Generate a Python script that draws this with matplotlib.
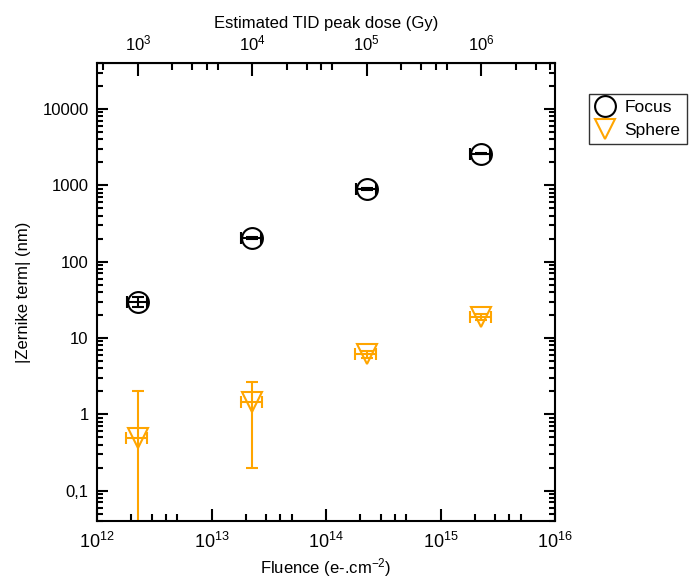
import numpy as np
import matplotlib.pyplot as plt
from matplotlib.lines import Line2D
from matplotlib.ticker import LogLocator, FixedLocator, FuncFormatter, NullFormatter, LogFormatterSciNotation

plt.rcParams['font.family'] = 'Liberation Sans'
plt.rcParams['mathtext.fontset'] = 'custom'
plt.rcParams['mathtext.rm'] = 'Liberation Sans'
plt.rcParams['mathtext.it'] = 'Liberation Sans:italic'
plt.rcParams['font.size'] = 12

# fluence of each irradiation step (e-/cm2)
fluence = [2.27e12, 2.27e13, 2.28e14, 2.27e15]
# TID peak dose per unit fluence (Gy per e-/cm2)
dose_per_fluence = 1e3 / 2.27e12

focus = [30, 205, 900, 2600]
focus_yerr = [4.3, 6, 20, 60]
sphere = [0.49, 1.43, 6.1, 18.9]
sphere_yerr = [1.54, 1.23, 0.6, 1.5]

ytick_vals = [0.1, 1, 10, 100, 1000, 10000]
ytick_text = ['0,1', '1', '10', '100', '1000', '10000']
dose_ticks = [1e3, 1e4, 1e5, 1e6]

orange = '#ffa500'

fig = plt.figure(figsize=(6.91, 5.82), dpi=100)
ax = fig.add_axes([97/691, 1 - 521/582, 458/691, 458/582])

x = np.array(fluence)
ax.errorbar(x, focus, xerr=0.2*x, yerr=focus_yerr, fmt='o', ms=15, mfc='none',
            mec='black', mew=1.5, ecolor='black', elinewidth=1.5, capsize=4, capthick=1.5)
ax.errorbar(x, sphere, xerr=0.21*x, yerr=sphere_yerr, fmt='v', ms=14, mfc='none',
            mec=orange, mew=1.5, ecolor=orange, elinewidth=1.5, capsize=4.5, capthick=1.5)

ax.set_xscale('log')
ax.set_yscale('log')
ax.set_xlim(1e12, 1e16)
ax.set_ylim(0.04, 4e4)

ax.xaxis.set_major_locator(LogLocator(base=10, numticks=10))
ax.xaxis.set_minor_locator(LogLocator(base=10, subs=[2, 3, 4, 5], numticks=10))
ax.xaxis.set_minor_formatter(NullFormatter())
ax.yaxis.set_major_locator(FixedLocator(ytick_vals))
ax.yaxis.set_major_formatter(FuncFormatter(lambda v, p: ytick_text[ytick_vals.index(v)] if v in ytick_vals else ''))
ax.yaxis.set_minor_locator(LogLocator(base=10, subs=np.arange(2, 10), numticks=12))
ax.yaxis.set_minor_formatter(NullFormatter())

ax.tick_params(which='both', direction='in', width=1.5, top=False, right=True, labelsize=12)
ax.tick_params(axis='x', which='major', length=9, pad=8, labelsize=13)
ax.tick_params(axis='x', which='minor', length=5)
ax.tick_params(axis='y', which='major', length=8, pad=6)
ax.tick_params(axis='y', which='minor', length=4)
for s in ax.spines.values():
    s.set_linewidth(1.5)

ax.set_xlabel('Fluence (e-.cm$^{-2}$)', fontsize=12, labelpad=3)
ax.set_ylabel('|Zernike term| (nm)', fontsize=12, labelpad=8)

# dose axis on top
top = ax.secondary_xaxis('top', functions=(lambda f: f * dose_per_fluence,
                                           lambda d: d / dose_per_fluence))
dose_minor = [m * d for d in [1e2] + dose_ticks for m in (2, 3, 4, 5)]
dose_lo, dose_hi = 1e12 * dose_per_fluence, 1e16 * dose_per_fluence
top.xaxis.set_major_locator(FixedLocator(dose_ticks))
top.xaxis.set_major_formatter(LogFormatterSciNotation())
top.xaxis.set_minor_locator(FixedLocator([d for d in dose_minor if dose_lo <= d <= dose_hi]))
top.xaxis.set_minor_formatter(NullFormatter())
top.tick_params(which='both', direction='in', width=1.5, labelsize=12)
top.tick_params(which='major', length=9, pad=7)
top.tick_params(which='minor', length=5)
top.set_xlabel('Estimated TID peak dose (Gy)', fontsize=12, labelpad=4)

handles = [Line2D([], [], ls='none', marker='o', ms=15, mfc='none', mec='black', mew=1.5),
           Line2D([], [], ls='none', marker='v', ms=14, mfc='none', mec=orange, mew=1.5)]
leg = fig.legend(handles, ['Focus', 'Sphere'], loc='upper left',
                 bbox_to_anchor=(589/691, 1 - 94/582), frameon=True, fancybox=False,
                 edgecolor='black', fontsize=12.5, handlelength=1.2, handletextpad=0.5,
                 borderpad=0.35, labelspacing=0.45, borderaxespad=0)
leg.get_frame().set_linewidth(1.0)

fig.savefig('out.png', dpi=100)
